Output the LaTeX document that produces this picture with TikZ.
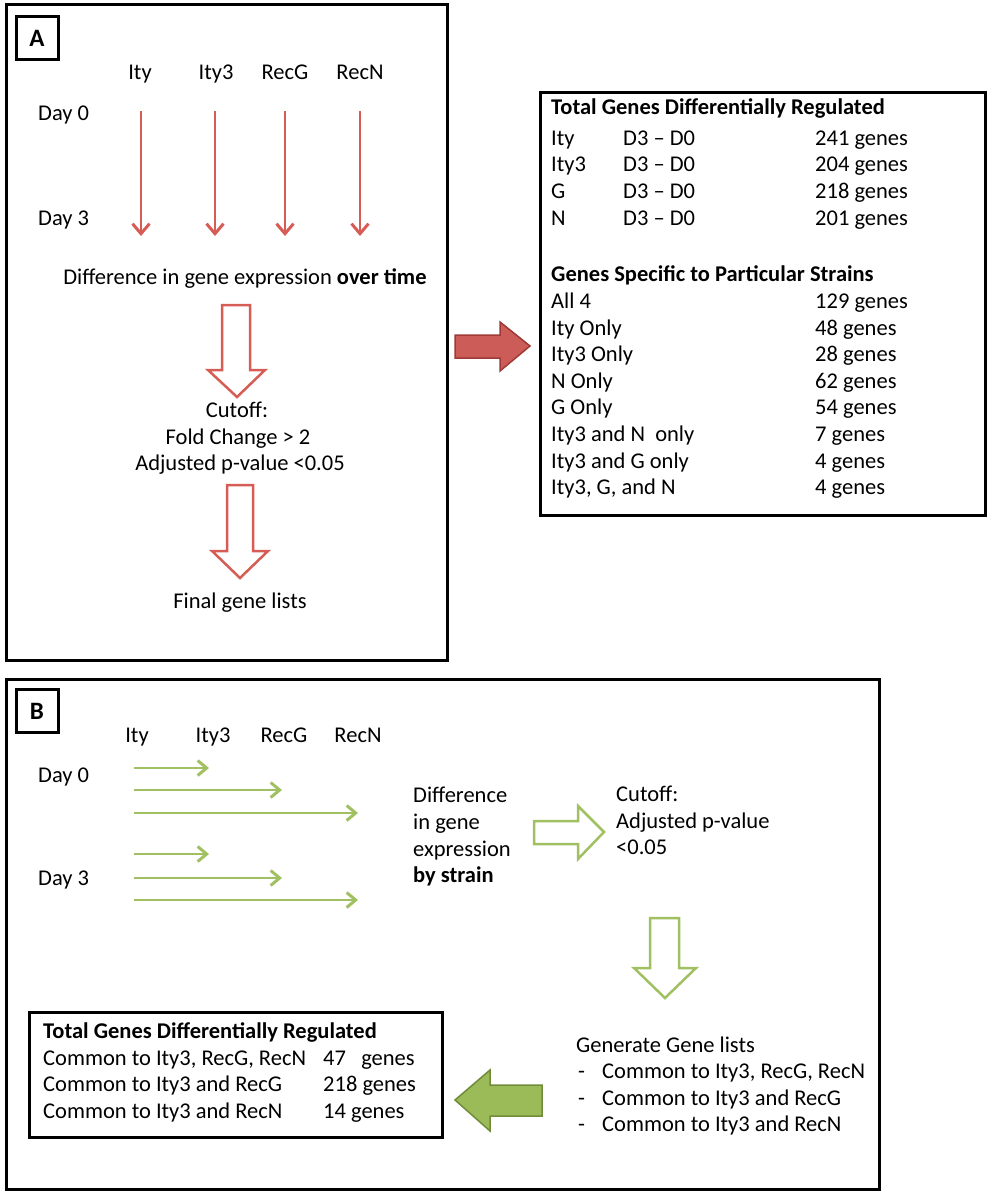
\documentclass[tikz,border=0pt]{standalone}
\usepackage{fontspec}
\setmainfont{Carlito}
\usetikzlibrary{arrows.meta}

\definecolor{redline}{RGB}{214,92,86}
\definecolor{redfill}{RGB}{204,92,88}
\definecolor{redborder}{RGB}{160,58,54}
\definecolor{greenline}{RGB}{160,192,98}
\definecolor{greenfill}{RGB}{155,187,89}
\definecolor{greenborder}{RGB}{112,140,58}

\tikzset{
  txt/.style={font=\fontsize{22.5}{27}\selectfont, inner sep=0pt, text height=1.5ex, text depth=.4ex},
  ltxt/.style={txt, anchor=west},
  btxt/.style={ltxt, font=\fontsize{22.5}{27}\selectfont\bfseries},
  panel/.style={draw, line width=3pt},
  tagbox/.style={draw, line width=3pt, font=\fontsize{25}{30}\selectfont\bfseries, minimum width=42pt, minimum height=43pt, inner sep=0pt},
  redthin/.style={draw=redline, line width=1.3pt, -{Straight Barb[length=10pt,width=17pt,line width=3pt]}},
  greenthin/.style={draw=greenline, line width=1.5pt, -{Straight Barb[length=9pt,width=15pt,line width=3pt]}},
  redhollow/.style={draw=redline, line width=2.5pt, fill=white},
  greenhollow/.style={draw=greenline, line width=2.5pt, fill=white},
  redsolid/.style={draw=redborder, line width=1.5pt, fill=redfill},
  greensolid/.style={draw=greenborder, line width=1.5pt, fill=greenfill}
}

\begin{document}
\begin{tikzpicture}[x=1pt,y=-1pt]
\useasboundingbox (0,0) rectangle (994,1196);

% panel A
\draw[panel] (6,5) rectangle (447,660);
\node[tagbox] (taga) at (37,38) {A};

\path (140,77) node[txt] (a-ity) {Ity}
      (216,77) node[txt] (a-ity3) {Ity3}
      (285,77) node[txt] (a-recg) {RecG}
      (360,77) node[txt] (a-recn) {RecN}
      (38,118) node[ltxt] (a-day0) {Day 0}
      (38,223) node[ltxt] (a-day3) {Day 3}
      (245,282) node[txt] (a-diff) {Difference in gene expression \textbf{over time}}
      (237,415) node[txt] (a-cut) {Cutoff:}
      (238,442) node[txt] (a-fold) {Fold Change > 2}
      (240,468) node[txt] (a-padj) {Adjusted p-value <0.05}
      (240,606) node[txt] (a-final) {Final gene lists};

\path (141,111) coordinate (ity-d0) (141,236) coordinate (ity-d3)
      (215,111) coordinate (ity3-d0) (215,236) coordinate (ity3-d3)
      (285,111) coordinate (recg-d0) (285,236) coordinate (recg-d3)
      (360,111) coordinate (recn-d0) (360,236) coordinate (recn-d3);

\draw[redthin] (ity-d0) -- (ity-d3);
\draw[redthin] (ity3-d0) -- (ity3-d3);
\draw[redthin] (recg-d0) -- (recg-d3);
\draw[redthin] (recn-d0) -- (recn-d3);

\draw[redhollow] (222,305) -- (250,305) -- (250,370) -- (265,370) -- (237,397)
      -- (208,370) -- (222,370) -- cycle;
\draw[redhollow] (227,485) -- (253,485) -- (253,551) -- (268,551) -- (240,578)
      -- (212,551) -- (227,551) -- cycle;

\draw[redsolid] (455,335) -- (500,335) -- (500,322) -- (530,346) -- (500,371)
      -- (500,358) -- (455,358) -- cycle;

% results of A
\draw[panel] (540,93) rectangle (985,515);
\path (551,112) node[btxt] (r-title) {Total Genes Differentially Regulated}
      (551,143) node[ltxt] (r-ity) {Ity}
      (623,143) node[ltxt] {D3 – D0}
      (815,143) node[ltxt] {241 genes}
      (551,169) node[ltxt] (r-ity3) {Ity3}
      (623,169) node[ltxt] {D3 – D0}
      (815,169) node[ltxt] {204 genes}
      (551,196) node[ltxt] (r-g) {G}
      (623,196) node[ltxt] {D3 – D0}
      (815,196) node[ltxt] {218 genes}
      (551,223) node[ltxt] (r-n) {N}
      (623,223) node[ltxt] {D3 – D0}
      (815,223) node[ltxt] {201 genes}
      (551,279) node[btxt] (s-title) {Genes Specific to Particular Strains}
      (551,306) node[ltxt] (s-all) {All 4}
      (815,306) node[ltxt] {129 genes}
      (551,333) node[ltxt] (s-ity) {Ity Only}
      (815,333) node[ltxt] {48 genes}
      (551,359) node[ltxt] (s-ity3) {Ity3 Only}
      (815,359) node[ltxt] {28 genes}
      (551,386) node[ltxt] (s-n) {N Only}
      (815,386) node[ltxt] {62 genes}
      (551,412) node[ltxt] (s-g) {G Only}
      (815,412) node[ltxt] {54 genes}
      (551,439) node[ltxt] (s-ity3n) {Ity3 and N\ \ only}
      (815,439) node[ltxt] {7 genes}
      (551,466) node[ltxt] (s-ity3g) {Ity3 and G only}
      (815,466) node[ltxt] {4 genes}
      (551,492) node[ltxt] (s-ity3gn) {Ity3, G, and N}
      (815,492) node[ltxt] {4 genes};

% panel B
\draw[panel] (6,679) rectangle (879,1189);
\node[tagbox] (tagb) at (37,711) {B};

\path (137,740) node[txt] (b-ity) {Ity}
      (213,740) node[txt] (b-ity3) {Ity3}
      (284,740) node[txt] (b-recg) {RecG}
      (358,740) node[txt] (b-recn) {RecN}
      (38,780) node[ltxt] (b-day0) {Day 0}
      (38,883) node[ltxt] (b-day3) {Day 3}
      (413,800) node[ltxt] (b-diff) {Difference}
      (413,827) node[ltxt] {in gene}
      (413,854) node[ltxt] {expression}
      (413,880) node[btxt] {by strain}
      (616,799) node[ltxt] (b-cut) {Cutoff:}
      (616,826) node[ltxt] {Adjusted p-value}
      (616,852) node[ltxt] {<0.05}
      (576,1050) node[ltxt] (b-gen) {Generate Gene lists}
      (578,1076) node[ltxt] {-}
      (602,1076) node[ltxt] (b-gen1) {Common to Ity3, RecG, RecN}
      (578,1103) node[ltxt] {-}
      (602,1103) node[ltxt] (b-gen2) {Common to Ity3 and RecG}
      (578,1129) node[ltxt] {-}
      (602,1129) node[ltxt] (b-gen3) {Common to Ity3 and RecN};

\path (134,768) coordinate (d0-a) (209,768) coordinate (d0-a')
      (134,790) coordinate (d0-b) (282,790) coordinate (d0-b')
      (134,813) coordinate (d0-c) (358,813) coordinate (d0-c')
      (134,854) coordinate (d3-a) (209,854) coordinate (d3-a')
      (134,878) coordinate (d3-b) (282,878) coordinate (d3-b')
      (134,900) coordinate (d3-c) (358,900) coordinate (d3-c');

\draw[greenthin] (d0-a) -- (d0-a');
\draw[greenthin] (d0-b) -- (d0-b');
\draw[greenthin] (d0-c) -- (d0-c');
\draw[greenthin] (d3-a) -- (d3-a');
\draw[greenthin] (d3-b) -- (d3-b');
\draw[greenthin] (d3-c) -- (d3-c');

\draw[greenhollow] (534,821) -- (578,821) -- (578,806) -- (604,832) -- (578,859)
      -- (578,844) -- (534,844) -- cycle;
\draw[greenhollow] (650,918) -- (679,918) -- (679,968) -- (696,968) -- (665,998)
      -- (634,968) -- (650,968) -- cycle;

\draw[greensolid] (542,1085) -- (490,1085) -- (490,1070) -- (455,1100) -- (490,1131)
      -- (490,1116) -- (542,1116) -- cycle;

% results of B
\draw[panel] (29,1012) rectangle (442,1137);
\path (43,1036) node[btxt] (c-title) {Total Genes Differentially Regulated}
      (43,1063) node[ltxt] (c-all) {Common to Ity3, RecG, RecN}
      (323,1063) node[ltxt] {47\ \ \ genes}
      (43,1089) node[ltxt] (c-g) {Common to Ity3 and RecG}
      (323,1089) node[ltxt] {218 genes}
      (43,1116) node[ltxt] (c-n) {Common to Ity3 and RecN}
      (323,1116) node[ltxt] {14 genes};
\end{tikzpicture}
\end{document}
